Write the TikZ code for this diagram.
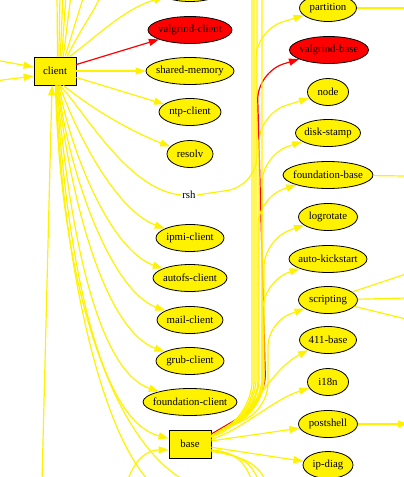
\documentclass[tikz,border=0pt]{standalone}
\usepackage{fontspec}
\setmainfont{Liberation Serif}
\usetikzlibrary{shapes.geometric,arrows.meta}

\begin{document}
\begin{tikzpicture}[x=1pt, y=-1pt,
    ell/.style={ellipse, draw=black, line width=0.8pt, fill=yellow, inner sep=0pt, minimum height=27pt,
        font=\fontsize{10.8}{12}\selectfont,
        execute at begin node={\hbox to 0pt\bgroup\hss}, execute at end node={\hss\egroup}},
    redell/.style={ell, fill=red},
    sq/.style={rectangle, draw=black, line width=0.8pt, fill=yellow, minimum width=42pt, minimum height=28pt,
        inner sep=0pt, font=\fontsize{10.8}{12}\selectfont},
    txt/.style={inner sep=1pt, font=\fontsize{10.8}{12}\selectfont},
    e/.style={-{Triangle[length=10pt,width=7pt]}, yellow, line width=1.2pt},
    ln/.style={yellow, line width=1.2pt},
    re/.style={e, red}
]
    \useasboundingbox (0,0) rectangle (404,477);
    \clip (0,0) rectangle (404,477);

    % left column
    \node[sq] (client) at (55,71) {client};
    \node[ell, minimum width=70pt] (topnode) at (190,-12) {};
    \node[redell, minimum width=84pt] (vclient) at (190,30) {valgrind-client};
    \node[ell, minimum width=88pt] (shmem) at (190,71) {shared-memory};
    \node[ell, minimum width=62pt] (ntp) at (190,112) {ntp-client};
    \node[ell, minimum width=46pt] (resolv) at (190,154) {resolv};
    \node[txt] (rsh) at (189,195) {rsh};
    \node[ell, minimum width=68pt] (ipmi) at (190,238) {ipmi-client};
    \node[ell, minimum width=74pt] (autofs) at (190,278) {autofs-client};
    \node[ell, minimum width=66pt] (mail) at (190,320) {mail-client};
    \node[ell, minimum width=68pt] (grub) at (190,361) {grub-client};
    \node[ell, minimum width=94pt] (fclient) at (190,402) {foundation-client};
    \node[sq] (base) at (190,444) {base};

    % right column
    \node[ell, minimum width=57pt] (partition) at (328,8) {partition};
    \node[redell, minimum width=79pt] (vbase) at (329,50) {valgrind-base};
    \node[ell, minimum width=41pt] (nodepkg) at (328,92) {node};
    \node[ell, minimum width=65pt] (disk) at (328,133) {disk-stamp};
    \node[ell, minimum width=90pt] (fbase) at (328,175) {foundation-base};
    \node[ell, minimum width=59pt] (logrot) at (328,217) {logrotate};
    \node[ell, minimum width=78pt] (autoks) at (328,259) {auto-kickstart};
    \node[ell, minimum width=59pt] (script) at (328,300) {scripting};
    \node[ell, minimum width=57pt] (b411) at (328,340) {411-base};
    \node[ell, minimum width=41pt] (i18n) at (328,382) {i18n};
    \node[ell, minimum width=59pt] (pshell) at (328,424) {postshell};
    \node[ell, minimum width=50pt] (ipdiag) at (328,465) {ip-diag};

    % loose ends outside the frame
    \coordinate (inA) at (-5,60);
    \coordinate (inB) at (-5,81);
    \foreach \x [count=\i] in {57,60,63,66,71,84,101}
        \coordinate (top\i) at (\x,-5);
    \coordinate (below) at (42,482);
    \coordinate (dpA) at (150,482);
    \coordinate (dpB) at (187,482);
    \coordinate (intobase) at (127,482);
    \coordinate (rshtop) at (257,-5);
    \coordinate (btopA) at (252,-5);
    \coordinate (btopB) at (254,-5);
    \coordinate (btopC) at (262,-5);
    \coordinate (brA) at (252,482);
    \coordinate (brB) at (259,482);
    \coordinate (brC) at (266,482);
    \coordinate (partR) at (406,8);
    \coordinate (fbaseR) at (406,176);
    \coordinate (scrA) at (406,274);
    \coordinate (scrB) at (406,298);
    \coordinate (scrC) at (406,319);
    \coordinate (pshR) at (408,424);

    % client
    \draw[e] (inA) -- ([yshift=4pt]client.west);
    \draw[e] (inB) -- ([yshift=-5pt]client.west);
    \foreach \a [count=\i] in {80,75,70,65,60,55}
        \draw[ln] (client.\a) -- (top\i);
    \draw[ln] (client.50) .. controls (80,30) and (95,10) .. (top7);
    \draw[e] (client.45) .. controls (95,38) and (125,8) .. (topnode.200);
    \draw[re] (client) -- (vclient);
    \draw[e] (client) -- (shmem);
    \draw[e] (client) -- (ntp);
    \draw[e] (client.-60) .. controls (100,115) and (140,135) .. (resolv);
    \draw[ln] (client.-70) .. controls (90,120) and (130,190) .. (rsh.west);
    \draw[e] (client.-72) .. controls (75,130) and (115,210) .. (ipmi);
    \draw[e] (client.-75) .. controls (70,150) and (110,250) .. (autofs);
    \draw[e] (client.-78) .. controls (68,170) and (110,290) .. (mail);
    \draw[e] (client.-80) .. controls (70,200) and (105,330) .. (grub);
    \draw[e] (client.-82) .. controls (68,220) and (95,370) .. (fclient);
    \draw[e] (client.-84) .. controls (65,240) and (95,420) .. (base.165);
    \draw[ln] (client.-86) .. controls (62,260) and (100,430) .. (dpA);
    \draw[ln] (client.-88) .. controls (60,280) and (110,440) .. (dpB);
    \draw[e] (below) -- ([xshift=-3pt]client.south);
    \draw[ln, rounded corners=30pt] (rsh.east) -- (257,186) -- (rshtop);

    % base
    \draw[e] (intobase) .. controls (135,458) and (148,450) .. (base.195);
    \draw[re, rounded corners=28pt] (base.25) -- (266,402) -- (257,72) -- (vbase);
    \draw[e, rounded corners=28pt] (base.20) -- (256,408) -- (256,30) -- (partition);
    \draw[e, rounded corners=28pt] (base.20) -- (259,408) -- (259,114) -- (nodepkg);
    \draw[e, rounded corners=28pt] (base.20) -- (262,408) -- (262,155) -- (disk);
    \draw[e, rounded corners=28pt] (base.20) -- (258,408) -- (258,197) -- (fbase);
    \draw[e, rounded corners=28pt] (base.20) -- (264,408) -- (264,239) -- (logrot);
    \draw[e, rounded corners=28pt] (base.20) -- (263,408) -- (263,281) -- (autoks);
    \draw[e, rounded corners=24pt] (base.20) -- (268,408) -- (268,322) -- (script);
    \draw[e] (base.18) .. controls (250,425) and (266,372) .. (b411);
    \draw[e] (base.12) .. controls (245,428) and (272,400) .. (i18n);
    \draw[e] (base) -- (pshell);
    \draw[e] (base) -- (ipdiag);
    \draw[ln, rounded corners=28pt] (base.18) -- (252,410) -- (btopA);
    \draw[ln, rounded corners=28pt] (base.18) -- (254,410) -- (btopB);
    \draw[ln, rounded corners=28pt] (base.22) -- (262,406) -- (btopC);
    \draw[ln] (base.-15) .. controls (235,452) and (246,462) .. (brA);
    \draw[ln] (base.-17) .. controls (238,454) and (252,462) .. (brB);
    \draw[ln] (base.-19) .. controls (240,456) and (258,462) .. (brC);

    % right side
    \draw[ln] (partition) -- (partR);
    \draw[ln] (fbase) -- (fbaseR);
    \draw[ln] (script) -- (scrA);
    \draw[ln] (script) -- (scrB);
    \draw[ln] (script) -- (scrC);
    \draw[e] (pshell) -- (pshR);
\end{tikzpicture}
\end{document}
